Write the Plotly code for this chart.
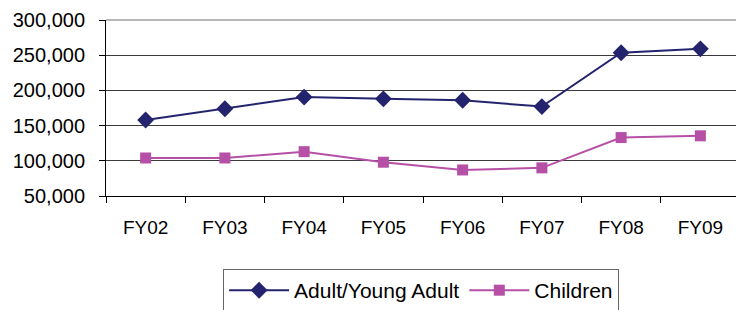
import plotly.graph_objects as go

categories = ["FY02", "FY03", "FY04", "FY05", "FY06", "FY07", "FY08", "FY09"]
adult = [158000, 174000, 190500, 188000, 186000, 177000, 253500, 259000]
children = [104000, 104000, 113000, 98000, 87000, 90000, 133000, 135500]
y_ticks = [50000, 100000, 150000, 200000, 250000, 300000]

FONT = "Liberation Sans, Arial, sans-serif"

fig = go.Figure()
fig.add_trace(go.Scatter(
    x=categories, y=adult, name="Adult/Young Adult", mode="lines+markers",
    line=dict(color="#24246E", width=2),
    marker=dict(symbol="diamond", size=13, color="#24246E"),
))
fig.add_trace(go.Scatter(
    x=categories, y=children, name="Children", mode="lines+markers",
    line=dict(color="#B650A6", width=2),
    marker=dict(symbol="square", size=11, color="#B650A6"),
))

fig.update_layout(
    width=736, height=302,
    margin=dict(l=98, r=4, t=12, b=114, autoexpand=False),
    paper_bgcolor="white", plot_bgcolor="white",
    font=dict(family=FONT, size=19, color="black"),
    showlegend=True,
    legend=dict(
        orientation="h", x=0.497, xanchor="center", y=-0.415, yanchor="top",
        bordercolor="#666666", borderwidth=1, font=dict(size=21),
        itemwidth=60, tracegroupgap=0,
    ),
    xaxis=dict(
        type="category", range=[-0.5, 7.5], automargin=False,
        showline=True, linecolor="black", linewidth=1,
        ticks="outside", ticklen=6, tickcolor="black",
        tickson="boundaries", showgrid=False,
        ticklabelstandoff=14, tickfont=dict(size=19),
    ),
    yaxis=dict(
        range=[50000, 300000], tickvals=y_ticks, tickformat=",",
        automargin=False,
        showline=True, linecolor="black", linewidth=1,
        ticks="outside", ticklen=6, tickcolor="black",
        showgrid=True, gridcolor="#3a3a3a", gridwidth=1,
        zeroline=False, ticklabelstandoff=10, tickfont=dict(size=20),
    ),
    shapes=[dict(
        type="path", xref="paper", yref="paper",
        path="M 0,1 L 1,1 L 1,0", line=dict(color="#a0a0a0", width=1.5),
        layer="above",
    )],
)

fig.write_html("out.html")
